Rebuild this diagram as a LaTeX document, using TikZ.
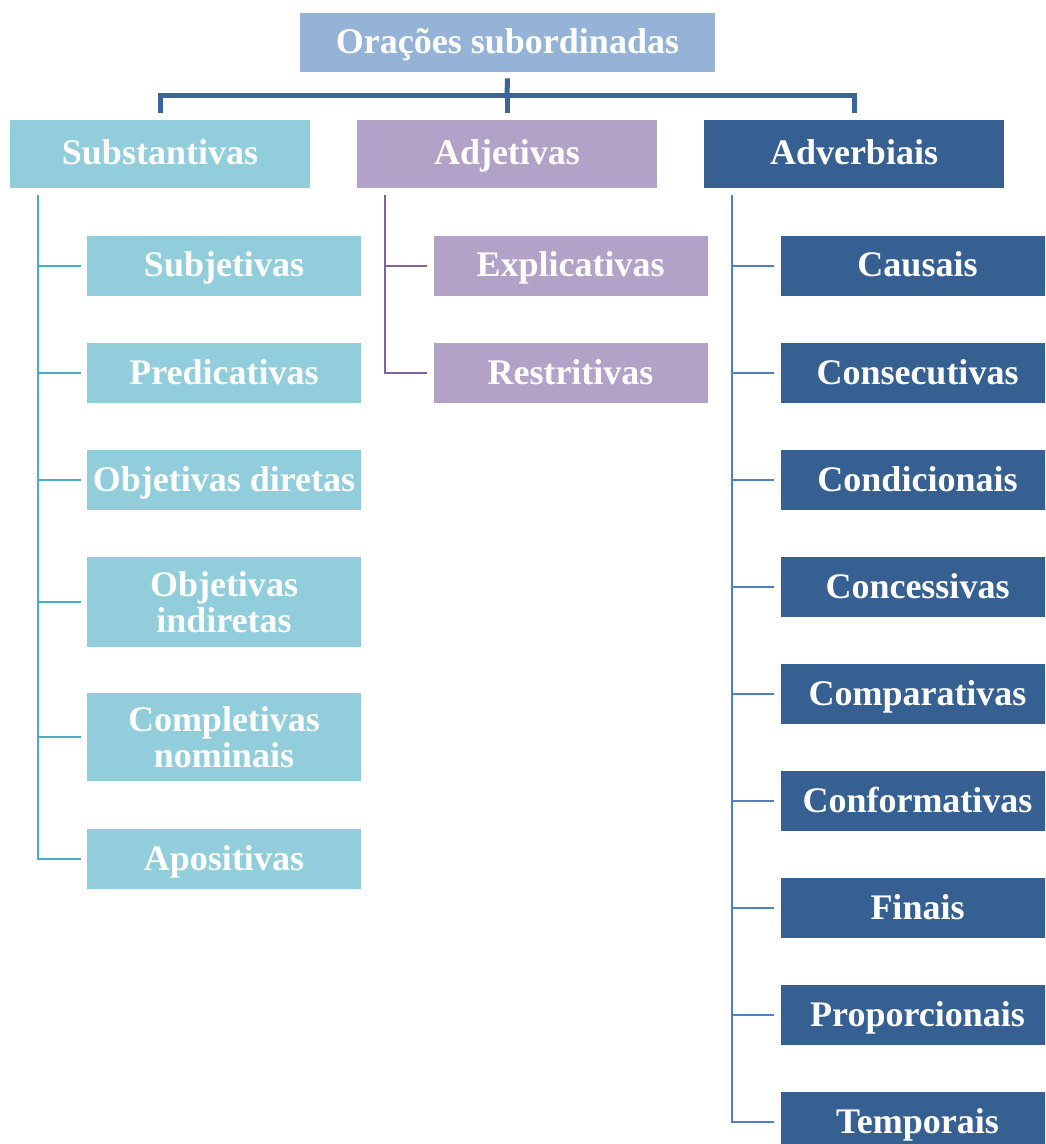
\documentclass[tikz,border=0pt]{standalone}
\usepackage{fontspec}
\setmainfont{Liberation Serif}

\definecolor{topfill}{HTML}{95B3D7}
\definecolor{subfill}{HTML}{92CDDC}
\definecolor{subline}{HTML}{4BACC6}
\definecolor{adjfill}{HTML}{B2A2C7}
\definecolor{adjline}{HTML}{8064A2}
\definecolor{advfill}{HTML}{376092}
\definecolor{advline}{HTML}{4F81BD}
\definecolor{busline}{HTML}{3A6596}

\begin{document}
\begin{tikzpicture}[x=0.5pt,y=-0.5pt,
  box/.style={rectangle,inner sep=0pt,text=white,align=center,
    font=\fontsize{18}{18}\selectfont\bfseries},
  oneline/.style={box,text height=15pt,text depth=4pt},
  headbox/.style={oneline,minimum width=150pt,minimum height=34pt},
  leafbox/.style={oneline,minimum width=137pt,minimum height=30pt},
  twobox/.style={box,minimum width=137pt},
  bus/.style={line width=2.5pt,draw=busline},
  twig/.style={line width=1pt,shorten >=3pt}]
  \clip (0,0) rectangle (1045,1144);

  % root
  \node [oneline,fill=topfill,minimum width=207.5pt,minimum height=29.5pt] (root) at (507.5,42.5) {Orações subordinadas};

  % first level
  \node [headbox,fill=subfill] (sub) at (160,154) {Substantivas};
  \node [headbox,fill=adjfill] (adj) at (507,154) {Adjetivas};
  \node [headbox,fill=advfill] (adv) at (854,154) {Adverbiais};

  \coordinate (hub) at (507,96);
  \draw [bus] ([yshift=-3pt]root.south) -- (hub);
  \draw [bus] ([yshift=3.5pt]sub.north) |- (hub) -| ([yshift=3.5pt]adv.north);
  \draw [bus] (hub) -- ([yshift=3.5pt]adj.north);

  % substantivas
  \node [leafbox,fill=subfill] (subj) at (224,266) {Subjetivas};
  \node [leafbox,fill=subfill] (pred) at (224,373) {Predicativas};
  \node [leafbox,fill=subfill] (objd) at (224,480) {Objetivas diretas};
  \node [twobox,fill=subfill,minimum height=45pt] (obji) at (224,602) {Objetivas\\indiretas};
  \node [twobox,fill=subfill,minimum height=44pt] (comp) at (224,737) {Completivas\\nominais};
  \node [leafbox,fill=subfill] (apos) at (224,859) {Apositivas};

  \coordinate (subT) at (38,195);
  \draw [twig,draw=subline] (subT) |- (apos.west);
  \foreach \n in {subj,pred,objd,obji,comp}
    \draw [twig,draw=subline] (subT |- \n.west) -- (\n.west);

  % adjetivas
  \node [leafbox,fill=adjfill] (expl) at (570.5,266) {Explicativas};
  \node [leafbox,fill=adjfill] (rest) at (570.5,373) {Restritivas};

  \coordinate (adjT) at (385,195);
  \draw [twig,draw=adjline] (adjT) |- (rest.west);
  \draw [twig,draw=adjline] (adjT |- expl.west) -- (expl.west);

  % adverbiais
  \node [leafbox,fill=advfill] (caus) at (917.5,266) {Causais};
  \node [leafbox,fill=advfill] (cons) at (917.5,373) {Consecutivas};
  \node [leafbox,fill=advfill] (cond) at (917.5,480) {Condicionais};
  \node [leafbox,fill=advfill] (conc) at (917.5,587) {Concessivas};
  \node [leafbox,fill=advfill] (compa) at (917.5,694) {Comparativas};
  \node [leafbox,fill=advfill] (conf) at (917.5,801) {Conformativas};
  \node [leafbox,fill=advfill] (fina) at (917.5,908) {Finais};
  \node [leafbox,fill=advfill] (prop) at (917.5,1015) {Proporcionais};
  \node [leafbox,fill=advfill] (temp) at (917.5,1122) {Temporais};

  \coordinate (advT) at (732,195);
  \draw [twig,draw=advline] (advT) |- (temp.west);
  \foreach \n in {caus,cons,cond,conc,compa,conf,fina,prop}
    \draw [twig,draw=advline] (advT |- \n.west) -- (\n.west);
\end{tikzpicture}
\end{document}
